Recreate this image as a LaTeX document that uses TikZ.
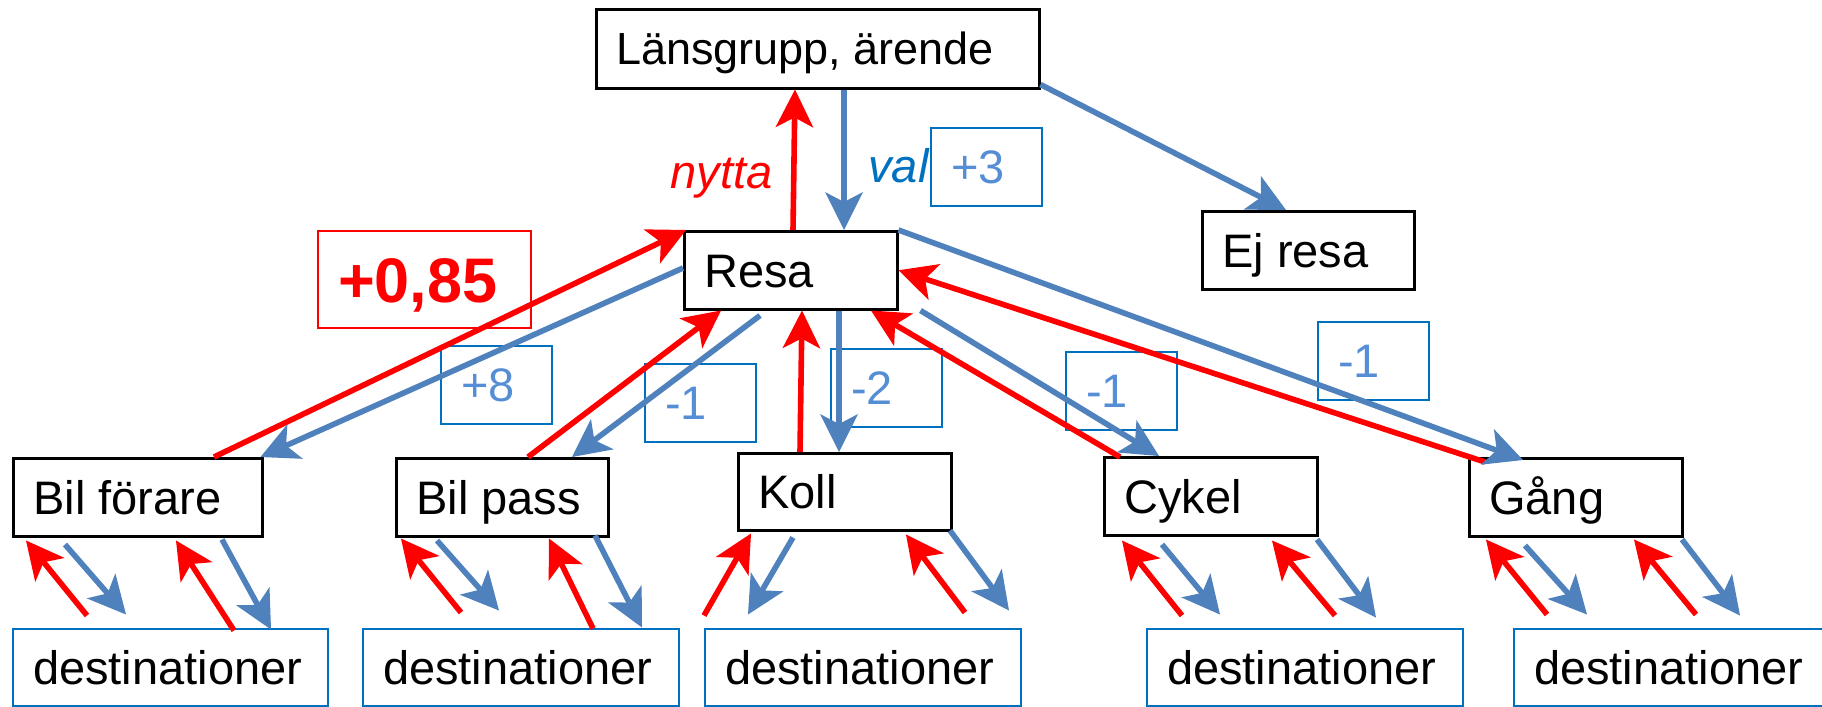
\documentclass[tikz,border=0pt]{standalone}
\usepackage{fontspec}
\setmainfont{Liberation Sans}
\usetikzlibrary{arrows.meta,calc}
\definecolor{lnblue}{RGB}{79,129,189}
\definecolor{bxblue}{RGB}{0,112,192}
\definecolor{numblue}{RGB}{85,142,213}
\definecolor{myred}{RGB}{255,0,0}
\newcommand\mainsz{\fontsize{23.5pt}{28pt}\selectfont}
\newcommand\numsz{\fontsize{23.5pt}{28pt}\selectfont}
\newcommand\lft[2]{\makebox[#1][l]{#2}}
\tikzset{
  blackbox/.style={draw=black, line width=1.25pt, fill=white, anchor=north west,
    inner xsep=10pt, inner ysep=0pt, font=\mainsz, text height=16.8pt, text depth=0pt},
  destbox/.style={draw=bxblue, line width=1pt, fill=white, anchor=north west,
    inner xsep=10pt, inner ysep=0pt, font=\mainsz, text height=16.8pt, text depth=0pt,
    minimum width=158pt, minimum height=38.5pt},
  numbox/.style={draw=bxblue, line width=1pt, anchor=north west,
    inner xsep=10pt, inner ysep=0pt, font=\numsz, text=numblue, text height=16.8pt,
    text depth=0pt, minimum width=55.5pt, minimum height=39pt},
  redarr/.style={draw=myred, line width=2.8pt,
    -{Stealth[length=19pt,width=19pt,inset=5pt,line width=0pt]}},
  bluearr/.style={draw=lnblue, line width=2.8pt,
    -{Stealth[length=19pt,width=19pt,inset=5pt,line width=0pt]}},
}
\begin{document}
\begin{tikzpicture}[x=0.5pt,y=-0.5pt]
\fill[white] (0,0) rectangle (1822,707);
\useasboundingbox (0,0) rectangle (1822,707);

% main boxes
\node[blackbox, minimum width=221.5pt, minimum height=39.5pt,
  font=\fontsize{22.5pt}{27pt}\selectfont, text height=16.1pt] (lg) at (595,8) {\lft{201.5pt}{Länsgrupp, ärende}};
\node[blackbox, minimum width=106.5pt, minimum height=39pt] (resa) at (683,230) {\lft{86.5pt}{Resa}};
\node[blackbox, minimum width=106pt, minimum height=39pt] (ej) at (1201,210) {\lft{86pt}{Ej resa}};
\node[blackbox, minimum width=124.5pt, minimum height=39pt] (bf) at (12,457) {\lft{104.5pt}{Bil förare}};
\node[blackbox, minimum width=106pt, minimum height=39pt] (bp) at (395,457) {\lft{86pt}{Bil pass}};
\node[blackbox, minimum width=106.5pt, minimum height=38.5pt] (koll) at (737,452) {\lft{86.5pt}{Koll}};
\node[blackbox, minimum width=106.5pt, minimum height=39pt] (cyk) at (1103,456) {\lft{86.5pt}{Cykel}};
\node[blackbox, minimum width=106.5pt, minimum height=39pt] (gang) at (1468,457) {\lft{86.5pt}{Gång}};

% destination boxes
\node[destbox, minimum width=157.5pt] (d1) at (12,628) {\lft{137.5pt}{destinationer}};
\node[destbox] (d2) at (362,628) {\lft{138pt}{destinationer}};
\node[destbox] (d3) at (704,628) {\lft{138pt}{destinationer}};
\node[destbox] (d4) at (1146,628) {\lft{138pt}{destinationer}};
\node[destbox, minimum width=160pt] (d5) at (1513,628) {\lft{140pt}{destinationer}};

% number boxes
\node[numbox] (n3) at (930,127) {\lft{35.5pt}{+3}};
\node[numbox] (n8) at (440,345) {\lft{35.5pt}{+8}};
\node[numbox] (nbp) at (644,363) {\lft{35.5pt}{-1}};
\node[numbox] (n2) at (830,348) {\lft{35.5pt}{-2}};
\node[numbox] (ncy) at (1065,351) {\lft{35.5pt}{-1}};
\node[numbox] (nga) at (1317,321) {\lft{35.5pt}{-1}};
\node[draw=myred, line width=1pt, anchor=north west, inner xsep=10pt, inner ysep=0pt,
  font=\fontsize{31.5pt}{36pt}\selectfont\bfseries, text=myred, text height=22.6pt,
  text depth=0pt, minimum width=106.5pt, minimum height=48.5pt] (rb) at (317,230) {\lft{86.5pt}{+0,85}};

% labels
\node[anchor=base west, inner sep=0pt, font=\mainsz\itshape, text=myred] (nytta) at (670,188) {nytta};
\node[anchor=base west, inner sep=0pt, font=\mainsz\itshape, text=bxblue] (val) at (868,182) {val};

% main connectors
\draw[redarr] ($(resa.north west)+(110,0)$) -- ($(lg.south west)+(200,0)$);
\draw[bluearr] ($(lg.south west)+(249,0)$) -- ($(resa.north west)+(161,0)$);
\draw[bluearr] ($(lg.south east)+(0,-5)$) -- ($(ej.north west)+(85,0)$);
\draw[redarr] ($(bf.north west)+(202,0)$) -- ($(resa.north west)+(3,0)$);
\draw[bluearr] ($(resa.north west)+(0,38)$) -- ($(bf.north east)+(-3,0)$);
\draw[redarr] ($(bp.north west)+(133,0)$) -- ($(resa.south west)+(38,0)$);
\draw[bluearr] ($(resa.south west)+(77,5)$) -- ($(bp.north west)+(177,0)$);
\draw[redarr] ($(koll.north west)+(63,0)$) -- ($(resa.south west)+(119,0)$);
\draw[bluearr] ($(resa.south west)+(156,0)$) -- ($(koll.north west)+(102,0)$);
\draw[redarr] ($(cyk.north west)+(17,1)$) -- ($(resa.south west)+(188,0)$);
\draw[bluearr] ($(resa.south east)+(22,0)$) -- ($(cyk.north west)+(56,0)$);
\draw[redarr] ($(gang.north west)+(17,5)$) -- (resa.east);
\draw[bluearr] (resa.north east) -- ($(gang.north west)+(55,3)$);

% small connectors: Bil förare
\draw[redarr] ($(bf.south west)+(75,78)$) -- ($(bf.south west)+(14,3)$);
\draw[bluearr] ($(bf.south west)+(53,7)$) -- ($(bf.south west)+(114,77)$);
\draw[redarr] ($(bf.south west)+(222,93)$) -- ($(bf.south west)+(164,3)$);
\draw[bluearr] ($(bf.south west)+(210,2)$) -- ($(bf.south west)+(259,92)$);
% Bil pass
\draw[redarr] ($(bp.south west)+(66,75)$) -- ($(bp.south west)+(6,1)$);
\draw[bluearr] ($(bp.south west)+(42,3)$) -- ($(bp.south west)+(104,73)$);
\draw[redarr] ($(bp.south west)+(198,91)$) -- ($(bp.south west)+(154,1)$);
\draw[bluearr] ($(bp.south west)+(200,-2)$) -- ($(bp.south west)+(247,90)$);
% Koll
\draw[redarr] ($(koll.south west)+(-33,84)$) -- ($(koll.south west)+(14,2)$);
\draw[bluearr] ($(koll.south west)+(56,6)$) -- ($(koll.south west)+(11,83)$);
\draw[redarr] ($(koll.south west)+(228,81)$) -- ($(koll.south west)+(169,3)$);
\draw[bluearr] ($(koll.south west)+(213,-1)$) -- ($(koll.south west)+(272,79)$);
% Cykel
\draw[redarr] ($(cyk.south west)+(79,79)$) -- ($(cyk.south west)+(19,4)$);
\draw[bluearr] ($(cyk.south west)+(59,8)$) -- ($(cyk.south west)+(117,78)$);
\draw[redarr] ($(cyk.south west)+(232,79)$) -- ($(cyk.south west)+(169,4)$);
\draw[bluearr] ($(cyk.south west)+(214,3)$) -- ($(cyk.south west)+(273,81)$);
% Gång
\draw[redarr] ($(gang.south west)+(79,77)$) -- ($(gang.south west)+(18,2)$);
\draw[bluearr] ($(gang.south west)+(57,8)$) -- ($(gang.south west)+(119,77)$);
\draw[redarr] ($(gang.south west)+(228,77)$) -- ($(gang.south west)+(166,2)$);
\draw[bluearr] ($(gang.south west)+(214,2)$) -- ($(gang.south west)+(272,78)$);
\end{tikzpicture}
\end{document}
